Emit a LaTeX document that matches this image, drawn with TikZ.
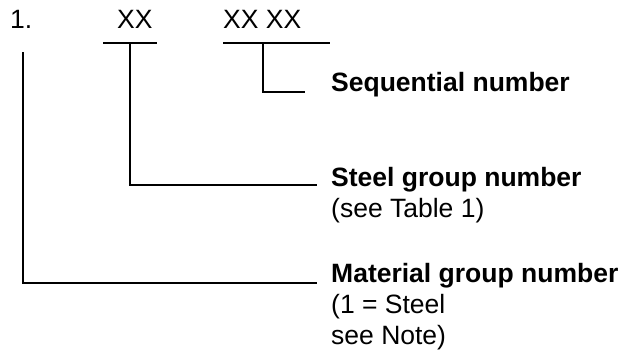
\documentclass[tikz,border=0pt]{standalone}
\usepackage{fontspec}
\setmainfont{Liberation Sans}
\begin{document}
\begin{tikzpicture}[x=1bp,y=-1bp,
  txt/.style={anchor=base west,inner sep=0pt,font=\fontsize{26.5bp}{31bp}\selectfont},
  btxt/.style={txt,font=\fontsize{26.5bp}{31bp}\selectfont\bfseries},
  ln/.style={line width=1.6bp,line cap=butt}]
\useasboundingbox (0,0) rectangle (622,355);
% code parts
\node[txt] (one) at (10,28) {1.};
\node[txt] (xx) at (117,28) {XX};
\node[txt] (xxxx) at (223,28) {XX XX};
% labels
\node[btxt] (seq) at (331,91) {Sequential number};
\node[btxt] (steel) at (331,186) {Steel group number};
\node[txt] (steel2) at (331,217) {(see Table 1)};
\node[btxt] (mat) at (331,282) {Material group number};
\node[txt] (mat2) at (331,313) {(1 = Steel};
\node[txt] (mat3) at (331,344) {see Note)};
% coordinates
\coordinate (ua) at (103,43);
\coordinate (ub) at (157,43);
\coordinate (uc) at (223,43);
\coordinate (ud) at (330,43);
\coordinate (sxtop) at (130,43);
\coordinate (sxbot) at (130,185);
\coordinate (sxend) at (317,185);
\coordinate (sqtop) at (263,43);
\coordinate (sqbot) at (263,92);
\coordinate (sqend) at (305,92);
\coordinate (mtop) at (23,52);
\coordinate (mbot) at (23,283);
\coordinate (mend) at (317,283);
% lines
\draw[ln] (ua) -- (ub);
\draw[ln] (uc) -- (ud);
\draw[ln] (sxtop) -- (sxbot) -- (sxend);
\draw[ln] (sqtop) -- (sqbot) -- (sqend);
\draw[ln] (mtop) -- (mbot) -- (mend);
\end{tikzpicture}
\end{document}
